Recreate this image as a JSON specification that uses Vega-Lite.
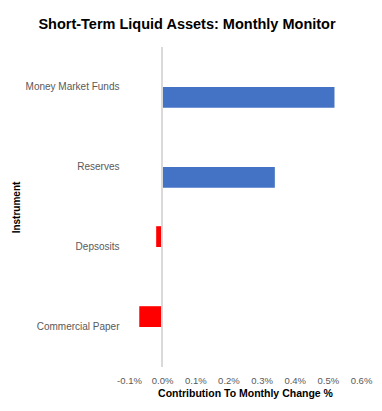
{
  "$schema": "https://vega.github.io/schema/vega-lite/v6.json",
  "autosize": "none",
  "width": 232,
  "height": 320,
  "padding": {"left": 129, "top": 47, "right": 21, "bottom": 44},
  "background": "white",
  "config": {
    "view": {"stroke": null},
    "font": "Liberation Sans",
    "axisX": {"labelOverlap": false, "labelFontSize": 9.5, "labelFlush": false}
  },
  "title": {
    "text": "Short-Term Liquid Assets: Monthly Monitor",
    "fontSize": 14.5,
    "fontWeight": "bold",
    "color": "#000000",
    "anchor": "middle",
    "dx": -58,
    "offset": 14
  },
  "data": {
    "values": [
      {"instrument": "Money Market Funds", "value": 0.52, "series": "pos"},
      {"instrument": "Reserves", "value": 0.34, "series": "pos"},
      {"instrument": "Depsosits", "value": -0.018, "series": "neg"},
      {"instrument": "Commercial Paper", "value": -0.069, "series": "neg"}
    ]
  },
  "layer": [
    {
      "mark": {"type": "bar"},
      "encoding": {
        "y": {
          "field": "instrument",
          "type": "nominal",
          "sort": ["Money Market Funds", "Reserves", "Depsosits", "Commercial Paper"],
          "scale": {"paddingInner": 0.48, "paddingOuter": 0.24},
          "axis": {
            "title": "Instrument",
            "titleFontSize": 10,
            "titleFontWeight": "bold",
            "titleColor": "#000000",
            "labelFontSize": 10,
            "labelColor": "#595959",
            "labelPadding": 10,
            "ticks": false,
            "domain": false,
            "grid": false
          }
        },
        "yOffset": {
          "field": "series",
          "type": "nominal",
          "scale": {"domain": ["neg", "pos"], "paddingInner": 0, "paddingOuter": 0}
        },
        "x": {
          "field": "value",
          "type": "quantitative",
          "scale": {"domain": [-0.1, 0.6], "nice": false, "zero": false},
          "axis": {
            "title": "Contribution To Monthly Change %",
            "titleFontSize": 10.5,
            "titleFontWeight": "bold",
            "titleColor": "#000000",
            "titlePadding": 4,
            "values": [-0.1, 0, 0.1, 0.2, 0.3, 0.4, 0.5, 0.6],
            "labelExpr": "(datum.value < 0 ? '-' : '') + format(abs(datum.value), '.1f') + '%'",
            "labelColor": "#595959",
            "labelPadding": 8,
            "labelOverlap": false,
            "ticks": false,
            "domain": false,
            "grid": false
          }
        },
        "color": {
          "field": "series",
          "type": "nominal",
          "scale": {"domain": ["pos", "neg"], "range": ["#4472C4", "#FF0000"]},
          "legend": null
        }
      }
    },
    {
      "mark": {"type": "rule", "color": "#D9D9D9", "strokeWidth": 1.5},
      "encoding": {
        "x": {
          "datum": 0,
          "type": "quantitative",
          "axis": {
            "title": "Contribution To Monthly Change %",
            "titleFontSize": 10.5,
            "titleFontWeight": "bold",
            "titleColor": "#000000",
            "titlePadding": 4,
            "values": [-0.1, 0, 0.1, 0.2, 0.3, 0.4, 0.5, 0.6],
            "labelExpr": "(datum.value < 0 ? '-' : '') + format(abs(datum.value), '.1f') + '%'",
            "labelColor": "#595959",
            "labelPadding": 8,
            "labelOverlap": false,
            "ticks": false,
            "domain": false,
            "grid": false
          }
        }
      }
    }
  ]
}
